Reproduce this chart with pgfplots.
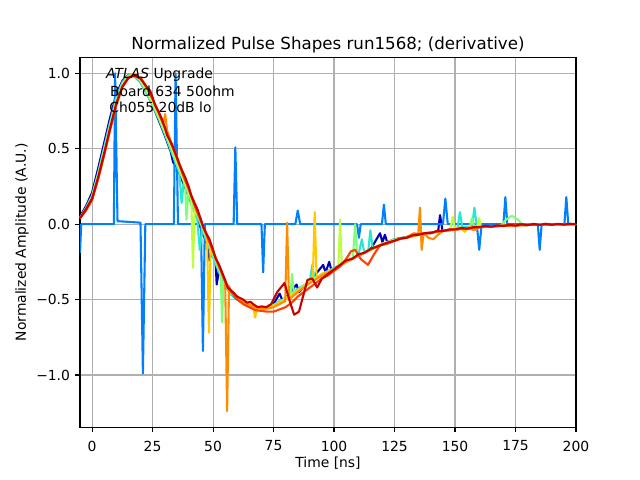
\documentclass[border=0pt]{standalone}
\usepackage{pgfplots}
\pgfplotsset{compat=1.18}
\usepackage{fontspec}
\setmainfont{DejaVu Sans}
\definecolor{c1}{RGB}{0,0,180}
\definecolor{c2}{RGB}{0,128,255}
\definecolor{c3}{RGB}{40,230,210}
\definecolor{c4}{RGB}{125,255,122}
\definecolor{c5}{RGB}{190,255,60}
\definecolor{c6}{RGB}{255,200,0}
\definecolor{c7}{RGB}{255,140,0}
\definecolor{c8}{RGB}{255,64,0}
\definecolor{c9}{RGB}{200,0,0}
\definecolor{gridc}{RGB}{176,176,176}
\begin{document}
\begin{tikzpicture}[x=1pt,y=1pt]
\path[use as bounding box] (-57.6,-38.0) rectangle (403.2,307.6);
\begin{axis}[
  at={(0,0)}, anchor=south west,
  scale only axis, width=357.12pt, height=266.1pt,
  xmin=-5, xmax=200, ymin=-1.346, ymax=1.104,
  xtick={0,25,50,75,100,125,150,175,200},
  xticklabels={0,25,50,75,100,125,150,175,200},
  ytick={-1,-0.5,0,0.5,1},
  yticklabels={−1.0,−0.5,0.0,0.5,1.0},
  tick align=outside, major tick length=3.5pt,
  tick style={black, line width=0.8pt},
  xtick pos=bottom, ytick pos=left,
  ticklabel style={font=\fontsize{10}{12}\selectfont, inner sep=0pt},
  xticklabel style={anchor=north, yshift=-6pt},
  yticklabel style={anchor=east, xshift=-3.5pt},
  axis line style={black, line width=0.8pt},
  grid=major, major grid style={gridc, line width=0.8pt},
  every axis title shift=0pt,
  title={Normalized Pulse Shapes run1568; (derivative)},
  title style={font=\fontsize{12}{14.4}\selectfont, at={(axis description cs:0.5,1.0225)}, anchor=base, inner sep=0pt, yshift=0pt},
  xlabel={Time [ns]},
  xlabel style={font=\fontsize{10}{12}\selectfont, at={(axis description cs:0.5,-0.1097)}, anchor=base, inner sep=0pt},
  ylabel={Normalized Amplitude (A.U.)},
  ylabel style={font=\fontsize{10}{12}\selectfont, at={(axis description cs:-0.1089,0.5)}, anchor=base, inner sep=0pt},
  every axis plot/.append style={line width=1.5pt, line join=round, mark=none},
]
% dark blue
\addplot[c1] coordinates {(-5,0.05) (-2.5,0.12) (0,0.21) (2.5,0.37) (5,0.54) (7.5,0.71) (10,0.86) (12.5,0.95) (15,0.99) (17.5,0.98) (20,0.94) (22.5,0.87) (25,0.79) (27.5,0.69) (30,0.59) (32.5,0.48) (33.5,0.41) (35,0.38) (37.5,0.28) (40,0.18) (42.5,0.08) (45,-0.03) (47.5,-0.13) (48.5,-0.24) (49.5,-0.18) (51,-0.24) (51.5,-0.40) (52.5,-0.30) (55,-0.41) (57.5,-0.465) (60,-0.50) (62.5,-0.52) (65,-0.54) (67.5,-0.55) (70,-0.56) (72.5,-0.55) (75,-0.53) (77.5,-0.46) (78.5,-0.50) (80,-0.49) (84.5,-0.40) (85.5,-0.45) (90,-0.38) (95.5,-0.27) (96.5,-0.32) (98,-0.25) (99,-0.31) (100,-0.30) (105,-0.25) (110,-0.21) (115,-0.17) (119,-0.06) (120,-0.12) (121,-0.07) (122,-0.12) (125,-0.10) (130,-0.085) (135,-0.07) (140,-0.055) (143,-0.05) (143.8,0.06) (144.8,-0.04) (145,-0.045) (150,-0.035) (160,-0.02) (170,-0.01) (180,-0.005) (190,-0.002) (200,0.0)};
% blue spiky
\addplot[c2] coordinates {(-5,-0.19) (-4.5,0.0) (9,0.0) (9.5,1.0) (10.5,0.02) (20,0.01) (21,-0.99) (22,0.0) (33.8,0.0) (34.5,1.0) (35.5,0.0) (45,0.0) (45.8,-0.84) (46.6,0.0) (58.5,0.0) (59.2,0.51) (60,0.0) (70,0.0) (70.7,-0.32) (71.4,0.0) (84,0.0) (85,0.09) (86,0.0) (109.5,0.0) (110.3,-0.09) (111,0.0) (119.8,0.0) (120.6,0.13) (121.4,0.0) (145,0.0) (146,0.17) (147,0.0) (159,0.0) (160,-0.17) (161,0.0) (170,0.0) (170.8,0.18) (171.6,0.0) (184.2,0.0) (185,-0.17) (185.8,0.0) (195.2,0.0) (196,0.18) (196.8,0.0) (200,0.0)};
% cyan
\addplot[c3] coordinates {(-5,0.04) (-2.5,0.11) (0,0.19) (2.5,0.34) (5,0.51) (7.5,0.68) (10,0.84) (12.5,0.94) (15,0.99) (17.5,0.98) (20,0.94) (22.5,0.87) (25,0.79) (27.5,0.70) (30,0.60) (32.5,0.49) (35,0.39) (36,0.35) (37,0.14) (38,0.30) (40,0.18) (42.5,0.08) (43.5,0.03) (44.5,-0.17) (45.5,-0.03) (47.5,-0.12) (50,-0.22) (52.5,-0.32) (55,-0.41) (57.5,-0.465) (60,-0.50) (62.5,-0.52) (65,-0.54) (67.5,-0.55) (70,-0.56) (72.5,-0.55) (75,-0.535) (77.5,-0.51) (80,-0.49) (85,-0.43) (90,-0.38) (91,-0.27) (92,-0.37) (95,-0.33) (100,-0.29) (105,-0.25) (110,-0.21) (111.5,-0.10) (112.5,-0.19) (114.2,-0.17) (115,-0.04) (116,-0.16) (120,-0.13) (125,-0.10) (130,-0.085) (135,-0.07) (140,-0.055) (145,-0.045) (150,-0.035) (151,-0.03) (152,0.08) (153,-0.02) (157,-0.02) (158,0.11) (159,-0.01) (165,-0.015) (170,-0.01) (180,-0.005) (190,-0.002) (200,0.0)};
% light green
\addplot[c4] coordinates {(-5,0.04) (-2.5,0.10) (0,0.18) (2.5,0.33) (5,0.49) (7.5,0.66) (10,0.82) (12.5,0.93) (15,0.98) (17.5,0.99) (20,0.95) (22.5,0.88) (25,0.80) (27.5,0.71) (30,0.61) (32.5,0.51) (35,0.40) (37.5,0.30) (38.5,0.26) (39,0.03) (39.8,0.22) (42.5,0.10) (45,0.0) (47.5,-0.10) (50,-0.20) (52.5,-0.30) (53.2,-0.34) (53.7,-0.65) (54.3,-0.38) (55,-0.40) (57.5,-0.46) (60,-0.49) (62.5,-0.515) (65,-0.535) (67.5,-0.55) (70,-0.56) (72.5,-0.555) (75,-0.54) (77.5,-0.52) (80,-0.49) (82,-0.47) (82.6,-0.33) (83.4,-0.46) (85,-0.44) (90,-0.38) (95,-0.33) (100,-0.30) (105,-0.25) (107.8,-0.22) (108.7,0.0) (109.6,-0.21) (115,-0.17) (120,-0.13) (125,-0.105) (130,-0.09) (135,-0.07) (140,-0.055) (145,-0.045) (150,-0.035) (156,-0.025) (157,0.04) (158,-0.02) (165,-0.015) (169,-0.01) (171,0.03) (173.5,0.055) (176,0.03) (178,-0.005) (185,-0.003) (190,-0.002) (200,0.0)};
% yellow-green
\addplot[c5] coordinates {(-5,0.04) (-2.5,0.10) (0,0.18) (2.5,0.32) (5,0.48) (7.5,0.65) (10,0.81) (12.5,0.92) (15,0.98) (17.5,0.99) (20,0.955) (22.5,0.89) (25,0.81) (27.5,0.72) (30,0.62) (32.5,0.52) (35,0.42) (37.5,0.31) (40,0.21) (41,0.17) (41.7,-0.29) (42.4,0.12) (45,0.01) (47.5,-0.09) (50,-0.19) (52.5,-0.29) (55,-0.39) (57.5,-0.455) (60,-0.49) (62.5,-0.515) (65,-0.53) (67.5,-0.55) (70,-0.56) (72.5,-0.555) (75,-0.54) (77.5,-0.52) (80,-0.49) (85,-0.44) (90,-0.38) (95,-0.33) (100,-0.30) (101.8,-0.28) (102.5,0.03) (103.2,-0.27) (105,-0.25) (110,-0.21) (115,-0.17) (120,-0.13) (125,-0.105) (130,-0.09) (135,-0.07) (140,-0.055) (145,-0.045) (148,-0.04) (149,0.05) (150,-0.035) (155,-0.028) (159.3,-0.02) (160,0.04) (160.7,-0.02) (165,-0.015) (170,-0.01) (180,-0.005) (190,-0.002) (200,0.0)};
% yellow
\addplot[c6] coordinates {(-5,0.04) (-2.5,0.10) (0,0.17) (2.5,0.31) (5,0.47) (7.5,0.64) (10,0.80) (12.5,0.92) (15,0.98) (17.5,1.0) (19,0.98) (20,0.97) (22.5,0.91) (25,0.83) (27.5,0.74) (30,0.64) (32.5,0.54) (35,0.44) (37.5,0.33) (40,0.23) (42.5,0.12) (45,0.02) (47.5,-0.08) (48.3,-0.72) (49,-0.14) (50,-0.18) (52.5,-0.28) (55,-0.38) (57.5,-0.45) (60,-0.49) (62.5,-0.51) (65,-0.53) (66.5,-0.54) (67.4,-0.62) (68.3,-0.55) (70,-0.56) (72.5,-0.55) (75,-0.54) (77.5,-0.52) (80,-0.50) (85,-0.44) (90,-0.39) (91.2,-0.37) (92,0.08) (92.8,-0.36) (95,-0.33) (100,-0.30) (105,-0.25) (110,-0.21) (115,-0.17) (120,-0.13) (125,-0.105) (130,-0.09) (135,-0.07) (140,-0.055) (145,-0.045) (150,-0.03) (152,-0.02) (154,-0.05) (156,-0.015) (158,-0.03) (160,-0.02) (165,-0.015) (170,-0.01) (180,-0.005) (190,-0.002) (200,0.0)};
% orange
\addplot[c7] coordinates {(-5,0.04) (-2.5,0.10) (0,0.17) (2.5,0.30) (5,0.46) (7.5,0.63) (10,0.79) (12.5,0.91) (15,0.97) (17.5,0.99) (20,0.97) (22.5,0.91) (25,0.83) (27.5,0.74) (29.5,0.67) (30.2,0.73) (31,0.62) (32.5,0.55) (35,0.45) (37.5,0.34) (40,0.23) (42.5,0.12) (45,0.02) (47.5,-0.08) (50,-0.18) (52.5,-0.28) (55,-0.38) (55.8,-1.24) (56.6,-0.41) (57.5,-0.45) (60,-0.49) (62.5,-0.515) (65,-0.535) (67.5,-0.55) (70,-0.56) (72.5,-0.56) (75,-0.55) (77.5,-0.53) (79.8,-0.51) (80.6,0.01) (81.4,-0.50) (85,-0.45) (90,-0.39) (95,-0.34) (100,-0.30) (105,-0.25) (110,-0.21) (115,-0.17) (120,-0.135) (125,-0.11) (130,-0.085) (133,-0.06) (134.8,-0.065) (135.5,0.11) (136.2,-0.17) (137,-0.06) (139,-0.09) (141,-0.10) (143,-0.07) (145,-0.045) (150,-0.035) (155,-0.025) (158,-0.04) (160,-0.02) (165,-0.015) (170,-0.01) (180,-0.005) (190,-0.002) (200,0.0)};
% red-orange
\addplot[c8] coordinates {(-5,0.04) (-2.5,0.09) (0,0.16) (2.5,0.30) (5,0.46) (7.5,0.63) (10,0.79) (12.5,0.91) (15,0.97) (17.5,0.99) (20,0.97) (22.5,0.91) (25,0.83) (27.5,0.74) (30,0.64) (32.5,0.54) (35,0.44) (37.5,0.33) (40,0.23) (42.5,0.12) (45,0.02) (47.5,-0.08) (50,-0.18) (52.5,-0.28) (55,-0.38) (57.5,-0.45) (60,-0.50) (62.5,-0.53) (65,-0.55) (67.5,-0.57) (70,-0.575) (72.5,-0.58) (75,-0.58) (77.5,-0.565) (80,-0.55) (82.5,-0.52) (85,-0.48) (87.5,-0.45) (90,-0.42) (92.5,-0.39) (95,-0.36) (97.5,-0.34) (100,-0.31) (102.5,-0.28) (105,-0.23) (107,-0.18) (108.7,-0.17) (111,-0.23) (114,-0.27) (116.5,-0.20) (119,-0.14) (122,-0.13) (125,-0.11) (127.5,-0.095) (130,-0.09) (132.5,-0.07) (135,-0.065) (137.5,-0.06) (140,-0.055) (145,-0.045) (150,-0.035) (155,-0.03) (160,-0.02) (165,-0.015) (170,-0.01) (180,-0.005) (190,-0.002) (200,0.0)};
% dark red
\addplot[c9] coordinates {(-5,0.04) (-2.5,0.10) (0,0.17) (2.5,0.31) (5,0.47) (7.5,0.64) (10,0.80) (12.5,0.91) (15,0.97) (17.5,0.985) (20,0.965) (22.5,0.91) (24,0.885) (25,0.84) (26,0.79) (27.5,0.745) (28.5,0.71) (30,0.645) (31,0.59) (32.5,0.545) (33.5,0.51) (35,0.445) (36,0.40) (37.5,0.345) (38.5,0.31) (40,0.245) (41,0.19) (42.5,0.135) (43.5,0.10) (45,0.03) (46,-0.02) (47.5,-0.07) (48.5,-0.10) (50,-0.17) (51,-0.225) (52.5,-0.27) (53.5,-0.31) (55,-0.37) (56,-0.42) (57.5,-0.44) (58.5,-0.455) (60,-0.48) (62.5,-0.50) (64,-0.52) (65.5,-0.515) (67,-0.535) (68.5,-0.55) (70,-0.545) (72,-0.55) (74,-0.53) (76.5,-0.45) (79.5,-0.39) (81.5,-0.50) (83.5,-0.60) (85.5,-0.58) (87.5,-0.46) (89,-0.37) (91,-0.36) (93,-0.42) (95,-0.36) (97.5,-0.33) (100,-0.30) (102.5,-0.27) (105,-0.24) (107.5,-0.23) (110,-0.20) (112.5,-0.19) (115,-0.165) (117.5,-0.15) (120,-0.135) (122.5,-0.12) (125,-0.11) (127.5,-0.095) (130,-0.09) (132.5,-0.075) (135,-0.07) (137.5,-0.06) (140,-0.06) (142.5,-0.045) (145,-0.045) (147.5,-0.035) (150,-0.035) (152.5,-0.025) (155,-0.03) (157.5,-0.02) (160,-0.02) (162.5,-0.01) (165,-0.017) (167.5,-0.008) (170,-0.012) (172.5,-0.004) (175,-0.01) (177.5,0.0) (180,-0.007) (182.5,0.002) (185,-0.005) (187.5,0.003) (190,-0.004) (192.5,0.002) (195,-0.003) (197.5,0.003) (200,0.0)};
\node[anchor=base west, inner sep=0pt, font=\fontsize{10}{12}\selectfont] at (axis cs:5.66,0.963) {\textit{ATLAS} Upgrade};
\node[anchor=base west, inner sep=0pt, font=\fontsize{10}{12}\selectfont] at (axis cs:7.3,0.845) {Board 634 50ohm};
\node[anchor=base west, inner sep=0pt, font=\fontsize{10}{12}\selectfont] at (axis cs:7.0,0.742) {Ch055 20dB lo};
\end{axis}
\end{tikzpicture}
\end{document}
